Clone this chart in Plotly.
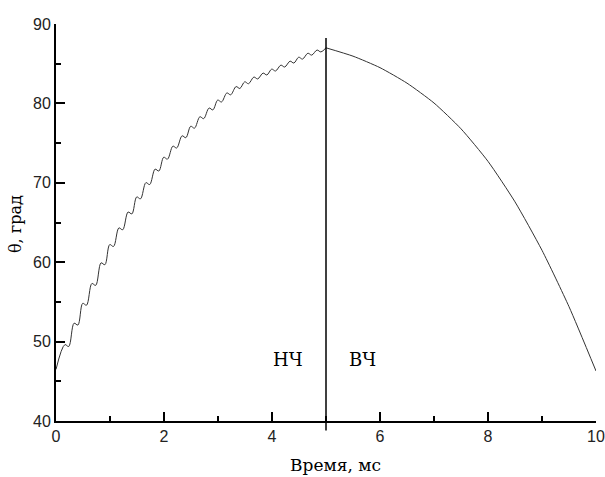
import plotly.graph_objects as go

# --- data ---
start_t, start_y = 0.0, 46.5
# plateau centres of the ripple in the low-frequency (НЧ) part
plateau_t = [0.20, 0.37, 0.53, 0.70, 0.87, 1.03, 1.20, 1.37, 1.53, 1.70,
             1.87, 2.03, 2.20, 2.37, 2.53, 2.70, 2.87, 3.03, 3.20, 3.37,
             3.53, 3.70, 3.87, 4.03, 4.20, 4.37, 4.53, 4.70, 4.87]
plateau_y = [49.5, 52.2, 54.7, 57.2, 59.8, 62.1, 64.2, 66.2, 68.1, 69.9,
             71.6, 73.1, 74.5, 75.8, 77.0, 78.2, 79.3, 80.3, 81.2, 82.0,
             82.6, 83.2, 83.7, 84.2, 84.7, 85.2, 85.7, 86.2, 86.6]
ripple_dip = 0.12  # small drop across each plateau (deg)
peak_t, peak_y = 5.0, 87.0
# high-frequency (ВЧ) part
hf_t = [5.0, 5.5, 6.0, 6.5, 7.0, 7.5, 8.0, 8.5, 9.0, 9.5, 10.0]
hf_y = [87.0, 85.95, 84.5, 82.55, 80.05, 76.8, 72.7, 67.6, 61.5, 54.4, 46.3]
boundary_t = 5.0
x_ticks = [0, 2, 4, 6, 8, 10]
y_ticks = [40, 50, 60, 70, 80, 90]

# plateau half-width (style of the ripple drawing)
w = 0.035
lf_t = [start_t]
lf_y = [start_y]
for t, y in zip(plateau_t, plateau_y):
    lf_t += [t - w, t + w]
    lf_y += [y + ripple_dip, y - ripple_dip]
lf_t.append(peak_t)
lf_y.append(peak_y)

fig = go.Figure()
fig.add_trace(go.Scatter(x=lf_t, y=lf_y, mode="lines",
                         line=dict(color="#333333", width=1, shape="spline", smoothing=1.0),
                         hoverinfo="skip", showlegend=False))
fig.add_trace(go.Scatter(x=hf_t, y=hf_y, mode="lines",
                         line=dict(color="#333333", width=1, shape="spline", smoothing=0.6),
                         hoverinfo="skip", showlegend=False))

fig.add_shape(type="line", xref="x", yref="paper",
              x0=boundary_t, x1=boundary_t, y0=-0.024, y1=0.965,
              line=dict(color="black", width=1.5))

serif = "DejaVu Serif"
fig.add_annotation(x=4.3, y=47.7, xref="x", yref="y", text="НЧ",
                   showarrow=False, font=dict(family=serif, size=18, color="black"))
fig.add_annotation(x=5.68, y=47.7, xref="x", yref="y", text="ВЧ",
                   showarrow=False, font=dict(family=serif, size=18, color="black"))
fig.add_annotation(x=0.517, y=-0.1115, xref="paper", yref="paper",
                   xanchor="center", yanchor="middle", borderpad=0,
                   text="Время, мс", showarrow=False,
                   font=dict(family=serif, size=17, color="black"))
fig.add_annotation(x=-0.076, y=0.496, xref="paper", yref="paper",
                   xanchor="center", yanchor="middle",
                   text="θ, град", textangle=-90, showarrow=False,
                   font=dict(family=serif, size=16, color="black"))

axis_common = dict(showgrid=False, zeroline=False, showline=True,
                   linecolor="black", linewidth=2, ticks="inside",
                   ticklen=9, tickwidth=1.5, tickcolor="black",
                   tickfont=dict(family="Liberation Sans", size=16, color="#222222"),
                   mirror=False, automargin=False)
fig.update_xaxes(range=[0, 10], tickvals=x_ticks, **axis_common,
                 minor=dict(dtick=1, ticks="inside", ticklen=5, tickwidth=1.5,
                            tickcolor="black"))
fig.update_yaxes(range=[40, 90], tickvals=y_ticks, **axis_common,
                 minor=dict(dtick=5, ticks="inside", ticklen=5, tickwidth=1.5,
                            tickcolor="black"))

fig.update_layout(width=605, height=477,
                  margin=dict(l=56, r=9, t=24, b=56),
                  plot_bgcolor="white", paper_bgcolor="white")

fig.write_html("out.html")
